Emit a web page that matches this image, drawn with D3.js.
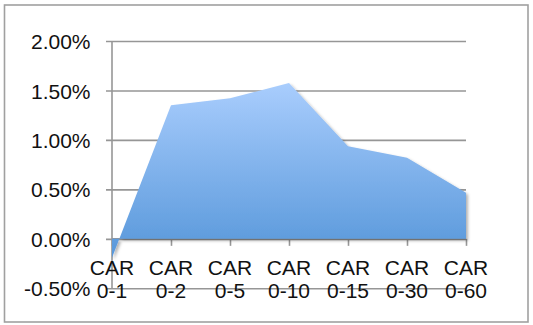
<!DOCTYPE html>
<html>
<head>
<meta charset="utf-8">
<script src="https://cdn.jsdelivr.net/npm/d3@7"></script>
<style>
  html, body { margin: 0; padding: 0; background: #fff; }
  svg { display: block; }
  text { font-family: "Liberation Sans", Arial, Helvetica, sans-serif; fill: #111; }
</style>
</head>
<body>
<svg id="chart" width="533" height="325"></svg>
<script>
// Cumulative abnormal return windows and their mean CAR values (%)
const categories = ["CAR 0-1", "CAR 0-2", "CAR 0-5", "CAR 0-10", "CAR 0-15", "CAR 0-30", "CAR 0-60"];
const carValues = [-0.19, 1.35, 1.42, 1.575, 0.935, 0.82, 0.465];
const yTicks = [-0.5, 0.0, 0.5, 1.0, 1.5, 2.0];

const svg = d3.select("#chart");
const fontSize = "21px";

// outer frame
svg.append("rect")
  .attr("x", 4.5).attr("y", 5).attr("width", 523.5).attr("height", 317)
  .attr("fill", "#fff").attr("stroke", "#a0a0a0").attr("stroke-width", 1.6);

const x = d3.scalePoint().domain(categories).range([112, 466]);
const y = d3.scaleLinear().domain([-0.5, 2.0]).range([288.3, 41]);

const defs = svg.append("defs");
const grad = defs.append("linearGradient")
  .attr("id", "areaFill").attr("x1", 0).attr("y1", 0).attr("x2", 0).attr("y2", 1);
grad.append("stop").attr("offset", "0%").attr("stop-color", "#a9cdfd");
grad.append("stop").attr("offset", "100%").attr("stop-color", "#5797da");

const shadow = defs.append("filter").attr("id", "shadow")
  .attr("x", "-5%").attr("y", "-5%").attr("width", "115%").attr("height", "115%");
shadow.append("feDropShadow")
  .attr("dx", 2).attr("dy", 2).attr("stdDeviation", 1.6)
  .attr("flood-color", "#000").attr("flood-opacity", 0.3);

// horizontal gridlines with left tick stubs
const yAxis = d3.axisLeft(y)
  .tickValues(yTicks)
  .tickSize(-(466 - 106))
  .tickPadding(0)
  .tickFormat(d => d.toFixed(2) + "%");

const gy = svg.append("g").attr("transform", "translate(106,0)").call(yAxis);
gy.select(".domain").remove();
gy.selectAll(".tick line")
  .attr("x1", 0).attr("x2", 466 - 106)
  .attr("stroke", "#969696").attr("stroke-width", 1.6);
gy.selectAll(".tick text")
  .attr("x", -15.5).attr("dy", "0.36em")
  .style("font-size", fontSize).style("font-family", "'Liberation Sans', Arial, sans-serif")
  .attr("fill", "#111");

// vertical axis line
svg.append("line")
  .attr("x1", 112).attr("x2", 112).attr("y1", y(2.0)).attr("y2", y(-0.5))
  .attr("stroke", "#969696").attr("stroke-width", 1.6);

// category axis at zero with downward ticks
const xAxis = d3.axisBottom(x).tickSize(7).tickFormat("");
const gx = svg.append("g").attr("transform", `translate(0,${y(0)})`).call(xAxis);
gx.select(".domain").attr("stroke", "#969696").attr("stroke-width", 1.6)
  .attr("d", `M112,0H466`);
gx.selectAll(".tick line").attr("stroke", "#969696").attr("stroke-width", 1.6);

// area between the CAR series and zero
const area = d3.area()
  .x((d, i) => x(categories[i]))
  .y0(y(0))
  .y1(d => y(d));

svg.append("path")
  .datum(carValues)
  .attr("d", area)
  .attr("fill", "url(#areaFill)")
  .attr("filter", "url(#shadow)");

// two-line category labels
const labels = svg.append("g");
categories.forEach(c => {
  const parts = c.split(" ");
  const t = labels.append("text")
    .attr("x", x(c)).attr("text-anchor", "middle")
    .style("font-size", fontSize);
  t.append("tspan").attr("x", x(c)).attr("y", 274.5).text(parts[0]);
  t.append("tspan").attr("x", x(c)).attr("y", 297.5).text(parts[1]);
});
</script>
</body>
</html>
